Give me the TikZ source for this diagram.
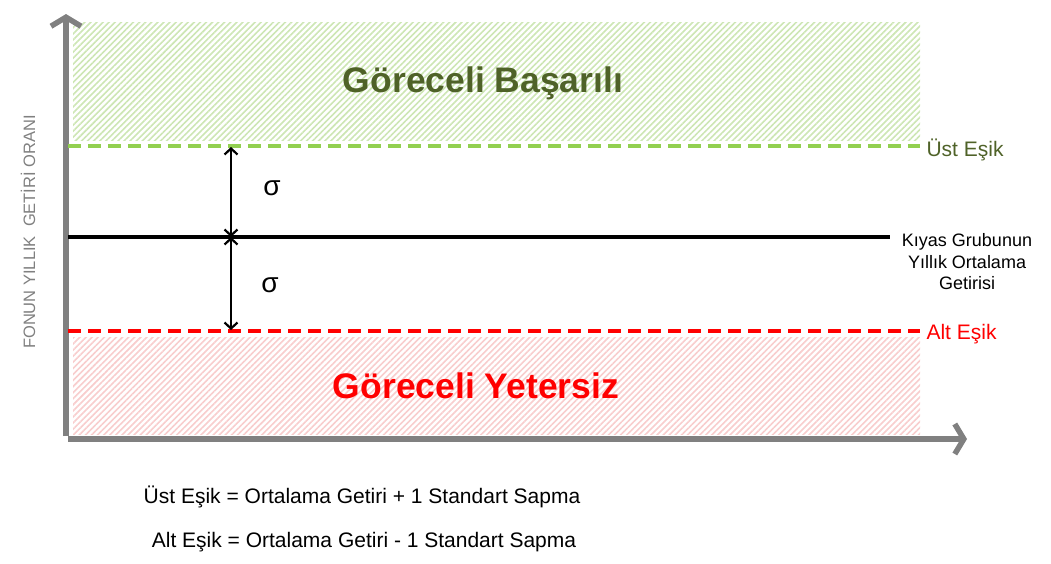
\documentclass[tikz,border=0pt]{standalone}
\usepackage{fontspec}
\setmainfont{Liberation Sans}
\usetikzlibrary{arrows.meta,patterns.meta}
\definecolor{axisgray}{RGB}{128,128,128}
\definecolor{okgreen}{RGB}{146,208,80}
\definecolor{darkgreen}{RGB}{79,98,40}
\definecolor{hatchgreen}{RGB}{205,230,180}
\definecolor{hatchred}{RGB}{248,205,205}
\begin{document}
\begin{tikzpicture}[x=1pt,y=-1pt,
    axis/.style ={draw=axisgray, line width=5.5pt, -{Straight Barb[length=9pt,width=30pt,line width=5.5pt]}},
    zone/.style ={pattern={Lines[angle=45,distance=4.3pt,line width=1.6pt]}},
    limit/.style ={line width=4pt, dash pattern=on 13pt off 7pt},
    gap/.style ={line width=2.2pt, {Straight Barb[length=6pt,width=13pt,line width=2.2pt]}-{Straight Barb[length=6pt,width=13pt,line width=2.2pt]}},
    title/.style ={font=\bfseries\fontsize{35.5}{40}\selectfont},
    tag/.style ={anchor=west, font=\fontsize{21}{25}\selectfont}]
   \useasboundingbox (0,0) rectangle (1051,563);
   % shaded zones
   \path[zone, pattern color=hatchgreen] (73,22) rectangle (920,140);
   \path[zone, pattern color=hatchred] (73,337) rectangle (920,434);
   % axes
   \coordinate (O) at (66,439);
   \coordinate (Ytop) at (66,14);
   \coordinate (Xend) at (967,439);
   \draw[axis] (66,436) -- (Ytop);
   \draw[axis] (68,439) -- (Xend);
   % threshold lines
   \coordinate (U0) at (68,146);
   \coordinate (U1) at (920,146);
   \coordinate (M0) at (68,237);
   \coordinate (M1) at (890,237);
   \coordinate (L0) at (68,331);
   \coordinate (L1) at (920,331);
   \draw[limit, okgreen] (U0) -- (U1);
   \draw[line width=4pt] (M0) -- (M1);
   \draw[limit, red] (L0) -- (L1);
   % sigma gaps
   \coordinate (SU) at (231,147);
   \coordinate (SM) at (231,237);
   \coordinate (SL) at (231,330);
   \draw[gap] (SU) -- (SM);
   \draw[gap] (SM) -- (SL);
   \node[font=\fontsize{28}{32}\selectfont] (s1) at (272,188) {σ};
   \node[font=\fontsize{28}{32}\selectfont] (s2) at (270,285) {σ};
   % labels
   \node[title, text=darkgreen] (basarili) at (483,83) {Göreceli Başarılı};
   \node[title, text=red] (yetersiz) at (476,386) {Göreceli Yetersiz};
   \node[tag, text=darkgreen] (ust) at (923,150) {Üst Eşik};
   \node[tag, text=red] (alt) at (923,334) {Alt Eşik};
   \node[align=center, font=\fontsize{18}{21.5}\selectfont] (kiyas) at (967,262)
     {Kıyas Grubunun\\Yıllık Ortalama\\Getirisi};
   \node[rotate=90, text=axisgray, font=\fontsize{16.5}{19}\selectfont] (yaxis) at (28,232)
     {FONUN YILLIK\ \ GETİRİ ORANI};
   \node[font=\fontsize{21}{25}\selectfont] (f1) at (362,497)
     {Üst Eşik = Ortalama Getiri + 1 Standart Sapma};
   \node[font=\fontsize{21}{25}\selectfont] (f2) at (364,542)
     {Alt Eşik = Ortalama Getiri - 1 Standart Sapma};
 \end{tikzpicture}
\end{document}
